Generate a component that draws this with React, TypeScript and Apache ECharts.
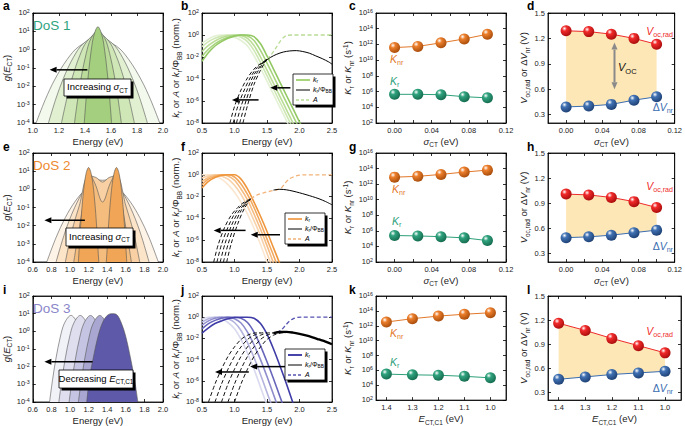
import React, { useEffect, useRef } from 'react';
import * as echarts from 'echarts';

const FONT = '"Liberation Sans", Arial, Helvetica, sans-serif';

// ================= DATA =================
// Panel a – DoS 1 (log10 g), lightest (largest sigma) -> darkest
const dos1X = [
  [1.025, 1.096, 1.167, 1.262, 1.357, 1.5, 1.643, 1.738, 1.833, 1.904, 1.975],
  [1.12, 1.177, 1.234, 1.31, 1.386, 1.5, 1.614, 1.69, 1.766, 1.823, 1.88],
  [1.22, 1.262, 1.304, 1.36, 1.416, 1.5, 1.584, 1.64, 1.696, 1.738, 1.78],
  [1.32, 1.347, 1.374, 1.41, 1.446, 1.5, 1.554, 1.59, 1.626, 1.653, 1.68],
  [1.395, 1.411, 1.427, 1.448, 1.469, 1.5, 1.531, 1.552, 1.573, 1.589, 1.605],
];
const dos1Y = [
  [-4, -2.72, -1.65, -0.55, 0.19, 0.6, 0.19, -0.55, -1.65, -2.72, -4],
  [-4, -2.68, -1.58, -0.44, 0.32, 0.75, 0.32, -0.44, -1.58, -2.68, -4],
  [-4, -2.64, -1.5, -0.33, 0.46, 0.9, 0.46, -0.33, -1.5, -2.64, -4],
  [-4, -2.6, -1.42, -0.21, 0.6, 1.05, 0.6, -0.21, -1.42, -2.6, -4],
  [-4, -2.54, -1.32, -0.06, 0.78, 1.25, 0.78, -0.06, -1.32, -2.54, -4],
];

// Panel e – DoS 2
const dos2X = [
  [0.75, 0.85, 0.95, 1.05, 1.15, 1.25, 1.35, 1.45, 1.55, 1.65, 1.75, 1.85, 1.95],
  [0.85, 0.95, 1.05, 1.15, 1.25, 1.35, 1.45, 1.55, 1.65, 1.75, 1.85],
  [0.95, 1.02, 1.1, 1.2, 1.28, 1.35, 1.42, 1.5, 1.6, 1.68, 1.75],
  [1.04, 1.09, 1.14, 1.2, 1.27, 1.35, 1.43, 1.5, 1.56, 1.61, 1.66],
  [1.09, 1.11, 1.14, 1.17, 1.2, 1.23, 1.26, 1.29, 1.31, 1.35, 1.39, 1.41, 1.44, 1.47, 1.5, 1.53, 1.56, 1.59, 1.61],
];
const dos2Y = [
  [-4, -2.65, -1.55, -0.7, -0.09, 0.28, 0.4, 0.28, -0.09, -0.7, -1.55, -2.65, -4],
  [-4, -2.3, -1.0, -0.05, 0.55, 0.5, 0.55, -0.05, -1.0, -2.3, -4],
  [-4, -2.3, -0.9, 0.75, 0.65, 0.4, 0.65, 0.75, -0.9, -2.3, -4],
  [-4, -2.4, -0.9, 0.95, 0.3, -0.7, 0.3, 0.95, -0.9, -2.4, -4],
  [-4, -2.3, -0.35, 0.81, 1.2, 0.81, -0.35, -2.3, -4, -6, -4, -2.3, -0.35, 0.81, 1.2, 0.81, -0.35, -2.3, -4],
];

// Panel i – DoS 3
const dos3X = [
  [0.78, 0.815, 0.85, 0.895, 0.94, 1.01, 1.08, 1.125, 1.17, 1.205, 1.24],
  [0.88, 0.915, 0.95, 0.995, 1.04, 1.11, 1.18, 1.225, 1.27, 1.305, 1.34],
  [0.99, 1.025, 1.06, 1.105, 1.15, 1.22, 1.29, 1.335, 1.38, 1.415, 1.45],
  [1.09, 1.125, 1.16, 1.205, 1.25, 1.32, 1.39, 1.435, 1.48, 1.515, 1.55],
  [1.18, 1.21, 1.25, 1.3, 1.35, 1.4, 1.45, 1.5, 1.55, 1.6, 1.65, 1.69, 1.73],
];
const dos3Y = [
  [-4, -2.64, -1.5, -0.33, 0.46, 0.9, 0.46, -0.33, -1.5, -2.64, -4],
  [-4, -2.64, -1.5, -0.33, 0.46, 0.9, 0.46, -0.33, -1.5, -2.64, -4],
  [-4, -2.64, -1.5, -0.33, 0.46, 0.9, 0.46, -0.33, -1.5, -2.64, -4],
  [-4, -2.64, -1.5, -0.33, 0.46, 0.9, 0.46, -0.33, -1.5, -2.64, -4],
  [-4, -2.6, -1.5, -0.3, 0.5, 0.9, 1.0, 0.95, 0.5, -0.3, -1.5, -2.6, -4],
];

// Panel b – k_r (log10, norm.)
const bKrX = [0.5, 0.6, 0.7, 0.8, 0.9, 1.0, 1.1, 1.2, 1.3, 1.4, 1.5, 1.6, 1.7, 1.8, 1.9, 2.0, 2.1];
const bKrY = [
  [-0.75, -0.35, -0.1, 0, -0.05, -0.2, -0.5, -1.0, -1.9, -3.0, -4.2, -5.4, -6.6, -7.8, -9.0],
  [-1.05, -0.6, -0.3, -0.1, 0, -0.05, -0.2, -0.6, -1.4, -2.5, -3.7, -4.9, -6.1, -7.3, -8.5, -9.7],
  [-1.5, -0.95, -0.55, -0.25, -0.08, 0, -0.05, -0.3, -0.95, -2.0, -3.2, -4.4, -5.6, -6.8, -8.0, -9.2],
  [-1.95, -1.3, -0.8, -0.45, -0.2, -0.05, 0, -0.1, -0.5, -1.4, -2.55, -3.75, -4.95, -6.15, -7.35, -8.55],
  [-2.4, -1.6, -1.0, -0.6, -0.3, -0.1, 0, 0, -0.15, -0.8, -1.9, -3.1, -4.3, -5.5, -6.7, -7.9, -9.1],
];
const bAbsLow = [
  [[0.93, -8], [1.0, -6.5], [1.1, -5.0], [1.2, -3.9], [1.3, -3.1], [1.4, -2.6], [1.5, -2.2]],
  [[0.98, -8], [1.05, -6.5], [1.15, -5.0], [1.25, -3.8], [1.35, -2.95], [1.5, -2.2]],
  [[1.03, -8], [1.1, -6.5], [1.2, -4.9], [1.3, -3.6], [1.4, -2.8], [1.5, -2.2]],
  [[1.08, -8], [1.15, -6.5], [1.25, -4.7], [1.35, -3.4], [1.42, -2.75], [1.5, -2.2]],
  [[1.13, -8], [1.2, -6.4], [1.3, -4.5], [1.4, -3.2], [1.5, -2.2]],
];
const bAbsHigh = [[1.5, -2.2], [1.55, -1.9], [1.6, -1.5], [1.65, -1.05], [1.7, -0.6], [1.75, -0.25], [1.8, -0.05], [1.9, 0], [2.5, 0]];
const bKrPhi = [[1.45, -2.5], [1.55, -2.05], [1.65, -1.75], [1.75, -1.55], [1.85, -1.45], [1.95, -1.42], [2.05, -1.5], [2.15, -1.65], [2.25, -1.9], [2.35, -2.15], [2.45, -2.45], [2.5, -2.65]];

// Panel f
const fKrX = [0.5, 0.6, 0.7, 0.8, 0.9, 1.0, 1.1, 1.2, 1.3, 1.4, 1.5, 1.6, 1.7];
const fKrY = [
  [0, 0, -0.1, -0.4, -0.9, -1.6, -2.5, -3.6, -4.9, -6.4, -8.0, -9.6],
  [-0.3, -0.1, 0, -0.1, -0.4, -0.95, -1.8, -2.9, -4.2, -5.6, -7.2, -8.8],
  [-0.6, -0.25, -0.05, 0, -0.1, -0.5, -1.3, -2.3, -3.6, -5.0, -6.5, -8.1, -9.7],
  [-0.9, -0.4, -0.15, -0.02, 0, -0.2, -0.85, -1.8, -3.0, -4.4, -5.9, -7.4, -9.0],
  [-1.2, -0.6, -0.25, -0.05, 0, 0, -0.4, -1.3, -2.5, -3.8, -5.2, -6.7, -8.2],
];
const fAbsLow = [
  [[0.68, -8], [0.75, -6.4], [0.85, -4.8], [0.95, -3.7], [1.05, -3.0], [1.15, -2.5], [1.25, -2.2]],
  [[0.73, -8], [0.8, -6.4], [0.9, -4.8], [1.0, -3.6], [1.1, -2.85], [1.25, -2.2]],
  [[0.78, -8], [0.85, -6.4], [0.95, -4.7], [1.05, -3.5], [1.15, -2.7], [1.25, -2.2]],
  [[0.83, -8], [0.9, -6.4], [1.0, -4.6], [1.1, -3.3], [1.18, -2.6], [1.25, -2.2]],
  [[0.88, -8], [0.95, -6.3], [1.05, -4.5], [1.15, -3.1], [1.25, -2.2]],
];
const fAbsHigh = [[1.25, -2.2], [1.35, -1.85], [1.45, -1.65], [1.55, -1.5], [1.65, -1.38], [1.72, -1.2], [1.78, -0.75], [1.85, -0.35], [1.95, -0.1], [2.05, 0], [2.5, 0]];
const fKrPhi = [[1.6, -1.4], [1.7, -1.33], [1.8, -1.38], [1.9, -1.5], [2.0, -1.65], [2.1, -1.82], [2.2, -2.0], [2.3, -2.2], [2.4, -2.45], [2.5, -2.75]];

// Panel j
const jKrX = [0.5, 0.6, 0.7, 0.8, 0.9, 1.0, 1.1, 1.2, 1.3, 1.4, 1.5, 1.6, 1.7, 1.8, 1.9];
const jKrY = [
  [-0.2, 0, 0, -0.15, -0.5, -1.1, -2.1, -3.4, -4.9, -6.6, -8.3],
  [-0.45, -0.15, 0, 0, -0.15, -0.5, -1.25, -2.4, -3.8, -5.4, -7.1, -8.8],
  [-0.75, -0.35, -0.1, 0, 0, -0.15, -0.55, -1.4, -2.6, -4.0, -5.6, -7.3, -9.0],
  [-1.1, -0.6, -0.3, -0.1, 0, 0, -0.1, -0.5, -1.4, -2.7, -4.2, -5.8, -7.5, -9.2],
  [-1.5, -1.0, -0.6, -0.35, -0.15, -0.03, 0, 0, -0.1, -0.6, -1.6, -3.0, -4.6, -6.3, -8.1],
];
const jKrPhiLow = [
  [[0.6, -8], [0.7, -6.3], [0.8, -4.9], [0.9, -3.7], [1.0, -2.8], [1.1, -2.1], [1.2, -1.7], [1.3, -1.5], [1.4, -1.45]],
  [[0.7, -8], [0.8, -6.3], [0.9, -4.9], [1.0, -3.7], [1.1, -2.8], [1.2, -2.1], [1.3, -1.7], [1.4, -1.5], [1.5, -1.45]],
  [[0.8, -8], [0.9, -6.3], [1.0, -4.9], [1.1, -3.7], [1.2, -2.8], [1.3, -2.1], [1.4, -1.7], [1.5, -1.5], [1.6, -1.45]],
  [[0.9, -8], [1.0, -6.3], [1.1, -4.9], [1.2, -3.7], [1.3, -2.8], [1.4, -2.1], [1.5, -1.7], [1.6, -1.5], [1.7, -1.45]],
  [[1.0, -8], [1.1, -6.3], [1.2, -4.9], [1.3, -3.7], [1.4, -2.8], [1.5, -2.1], [1.6, -1.7], [1.7, -1.5], [1.8, -1.45]],
];
const jAbsHigh = [[1.65, -1.45], [1.72, -1.2], [1.78, -0.8], [1.84, -0.4], [1.9, -0.15], [1.97, -0.02], [2.05, 0], [2.5, 0]];
const jKrPhi = [[1.6, -1.5], [1.7, -1.4], [1.8, -1.38], [1.9, -1.45], [2.0, -1.57], [2.1, -1.72], [2.2, -1.9], [2.3, -2.1], [2.4, -2.3], [2.5, -2.55]];

// Panels c/d, g/h, k/l
const sigmaCT = [0, 0.025, 0.05, 0.075, 0.1];
const ectC1 = [1.4, 1.3, 1.2, 1.1, 1.0];
const cKnr = [11.6, 11.75, 12.2, 12.7, 13.3];
const cKr = [5.65, 5.65, 5.6, 5.35, 5.2];
const dVoc = [1.29, 1.28, 1.25, 1.2, 1.13];
const dDV = [0.39, 0.4, 0.42, 0.47, 0.51];
const gKnr = [12.9, 13.0, 13.25, 13.55, 13.8];
const gKr = [5.4, 5.35, 5.25, 5.1, 4.75];
const hVoc = [1.01, 1.0, 0.97, 0.92, 0.85];
const hDV = [0.49, 0.5, 0.52, 0.55, 0.58];
const kKnr = [12.5, 12.95, 13.3, 13.55, 13.75];
const kKr = [5.5, 5.4, 5.35, 5.2, 5.0];
const lVoc = [1.16, 1.07, 0.97, 0.88, 0.79];
const lDV = [0.46, 0.49, 0.52, 0.54, 0.56];

// tick values
const vTicks = [0.3, 0.6, 0.9, 1.2, 1.5];
const sigmaTicks = [0, 0.04, 0.08, 0.12];
const sigmaMinor = [0, 0.02, 0.04, 0.06, 0.08, 0.1, 0.12];
const ectTicks = [1.0, 1.1, 1.2, 1.3, 1.4];

// ================= LAYOUT / STYLE =================
const ROW_TOP = [13, 153, 296];
const ROW_H = [110, 109, 107];
const COL_LEFT = [28, 202, 376, 548];
const COL_W = [135, 130, 130, 133];

const RANGE_X = [[1, 2], [0.5, 2.5], [-0.02, 0.12], [-0.02, 0.12], [0.6, 2], [0.5, 2.5], [-0.02, 0.12], [-0.02, 0.12], [0.6, 2], [0.5, 2.5], [0.94, 1.44], [0.94, 1.44]];
const RANGE_Y = [[-4, 2], [-8, 2], [2, 16], [0.2, 1.5], [-4, 2], [-8, 2], [2, 16], [0.2, 1.5], [-4, 2], [-8, 2], [2, 16], [0.2, 1.5]];
const INV = [false, false, false, false, false, false, false, false, false, false, true, true];

const GREEN_FILL = ['#f3f9ec', '#e2f0d2', '#cfe6b6', '#badb9a', '#a3cf7e'];
const ORANGE_FILL = ['#fdf3e7', '#fbe4c8', '#f8d0a3', '#f4bc7d', '#f0a656'];
const PURPLE_FILL = ['#f1f1f8', '#dedeef', '#c5c4e2', '#a9a7d2', '#5e59a8'];
const GREEN_LINE = ['#e3f1d4', '#cfe7b5', '#bbdd98', '#a8d47e', '#93c964'];
const ORANGE_LINE = ['#fbe6d0', '#f8d2aa', '#f5bd84', '#f2a95f', '#ef963c'];
const BLUE_LINE = ['#d9d9ef', '#b4b3de', '#8e8ccc', '#6866bb', '#3f3ca8'];

function P(i: number, x: number, y: number): [number, number] {
  const r = Math.floor(i / 4), c = i % 4;
  const [x0, x1] = RANGE_X[i];
  const [y0, y1] = RANGE_Y[i];
  let fx = (x - x0) / (x1 - x0);
  if (INV[i]) fx = 1 - fx;
  return [COL_LEFT[c] + fx * COL_W[c], ROW_TOP[r] + ((y1 - y) / (y1 - y0)) * ROW_H[r]];
}

const zip = (xs: number[], ys: number[]) => ys.map((y, k) => [xs[k], y]);

function RICH(size: number, color: string) {
  const base = { fontSize: size, fontFamily: FONT, color, fill: color, verticalAlign: 'top', lineHeight: size * 1.25 };
  return {
    n: base,
    i: { ...base, fontStyle: 'italic' },
    s: { fontSize: size * 0.68, fontFamily: FONT, color, fill: color, verticalAlign: 'bottom', lineHeight: size * 0.8, padding: [size * 0.55, 0, 0, 0] },
    p: { fontSize: size * 0.68, fontFamily: FONT, color, fill: color, verticalAlign: 'top', lineHeight: size * 0.8 },
  };
}

const TICK_RICH = {
  b: { fontSize: 7.5, fontFamily: FONT, color: '#222', verticalAlign: 'top', lineHeight: 9 },
  p: { fontSize: 5.3, fontFamily: FONT, color: '#222', verticalAlign: 'top', lineHeight: 5.5 },
};
const logFmt = (v: number) => `{b|10}{p|${Math.round(v)}}`;

function ball(base: string, dark: string) {
  return new echarts.graphic.RadialGradient(0.35, 0.3, 0.75, [
    { offset: 0, color: '#ffffff' },
    { offset: 0.3, color: base },
    { offset: 1, color: dark },
  ]);
}

function buildOption() {
  const grid: any[] = [];
  const xAxis: any[] = [];
  const yAxis: any[] = [];
  const xMirror: any[] = [];
  const yMirror: any[] = [];
  const series: any[] = [];
  const graphic: any[] = [];

  const lineStyleAxis = { color: '#000', width: 0.8 };
  const nameStyle = { fontSize: 9.5, fontFamily: FONT, color: '#222', rich: RICH(9.5, '#222') };

  for (let i = 0; i < 12; i++) {
    const r = Math.floor(i / 4), c = i % 4;
    grid.push({ left: COL_LEFT[c], top: ROW_TOP[r], width: COL_W[c], height: ROW_H[r], show: true, borderColor: '#000', borderWidth: 0.8, backgroundColor: 'transparent' });
    const kind = c;
    const xa: any = {
      gridIndex: i, type: 'value', position: 'bottom', min: RANGE_X[i][0], max: RANGE_X[i][1], inverse: INV[i],
      splitLine: { show: false },
      axisLine: { show: true, onZero: false, lineStyle: lineStyleAxis },
      axisTick: { show: true, inside: true, length: 3, lineStyle: lineStyleAxis },
      axisLabel: { fontSize: 7.5, fontFamily: FONT, color: '#222', margin: 3, showMinLabel: true, showMaxLabel: true },
      nameLocation: 'middle', nameGap: 13, nameTextStyle: nameStyle,
    };
    const ya: any = {
      gridIndex: i, type: 'value', position: 'left', min: RANGE_Y[i][0], max: RANGE_Y[i][1],
      splitLine: { show: false },
      axisLine: { show: true, onZero: false, lineStyle: lineStyleAxis },
      axisTick: { show: true, inside: true, length: 3, lineStyle: lineStyleAxis },
      axisLabel: { fontSize: 7.5, fontFamily: FONT, color: '#222', margin: 3, showMinLabel: true, showMaxLabel: true },
      nameLocation: 'middle', nameTextStyle: nameStyle,
    };
    if (kind === 0) {
      xa.interval = 0.2;
      xa.axisLabel.formatter = (v: number) => v.toFixed(1);
      xa.name = '{n|Energy (eV)}';
      ya.interval = 1;
      ya.axisLabel.formatter = logFmt;
      ya.axisLabel.rich = TICK_RICH;
      ya.name = '{i|g}{n|(}{i|E}{s|CT}{n|)}';
      ya.nameGap = 17;
    } else if (kind === 1) {
      xa.interval = 0.5;
      xa.axisLabel.formatter = (v: number) => v.toFixed(1);
      xa.name = '{n|Energy (eV)}';
      ya.interval = 2;
      ya.axisLabel.formatter = logFmt;
      ya.axisLabel.rich = TICK_RICH;
      ya.name = '{i|k}{s|r}{n| or }{i|A}{n| or }{i|k}{s|r}{n|/Φ}{s|BB}{n| (norm.)}';
      ya.nameGap = 15;
    } else {
      if (r < 2) {
        xa.axisLabel.customValues = sigmaTicks;
        xa.axisTick.customValues = sigmaMinor;
        xa.axisLabel.formatter = (v: number) => v.toFixed(2);
        xa.name = '{i|σ}{s|CT}{n| (eV)}';
      } else {
        xa.axisLabel.customValues = ectTicks;
        xa.axisTick.customValues = ectTicks;
        xa.axisLabel.formatter = (v: number) => v.toFixed(1);
        xa.name = '{i|E}{s|CT,C1}{n| (eV)}';
      }
      if (kind === 2) {
        ya.interval = 2;
        ya.axisLabel.formatter = logFmt;
        ya.axisLabel.rich = TICK_RICH;
        ya.name = '{i|K}{s|r}{n| or }{i|K}{s|nr}{n| (s}{p|-1}{n|)}';
        ya.nameGap = 19;
      } else {
        ya.axisLabel.customValues = vTicks;
        ya.axisTick.customValues = vTicks;
        ya.axisLabel.formatter = (v: number) => v.toFixed(1);
        ya.name = '{i|V}{s|oc,rad}{n| or Δ}{i|V}{s|nr}{n| (V)}';
        ya.nameGap = 16;
      }
    }
    xAxis.push(xa);
    yAxis.push(ya);
    // mirror axes: ticks only on top / right
    xMirror.push({
      ...xa, position: 'top', name: '', axisLabel: { ...xa.axisLabel, show: false },
      axisLine: { show: true, onZero: false, lineStyle: lineStyleAxis },
    });
    yMirror.push({
      ...ya, position: 'right', name: '', axisLabel: { ...ya.axisLabel, show: false },
      axisLine: { show: true, onZero: false, lineStyle: lineStyleAxis },
    });
  }

  const ln = (i: number, data: any[], extra: any) => ({
    type: 'line', xAxisIndex: i, yAxisIndex: i, data, symbol: 'none', silent: true, animation: false, ...extra,
  });

  // DoS panels
  const dosPanels: [number, number[][], number[][], string[]][] = [
    [0, dos1X, dos1Y, GREEN_FILL], [4, dos2X, dos2Y, ORANGE_FILL], [8, dos3X, dos3Y, PURPLE_FILL],
  ];
  dosPanels.forEach(([gi, xs, ys, fills]) => {
    ys.forEach((yy, k) => {
      series.push(ln(gi, zip(xs[k], yy), {
        smooth: 0.35,
        lineStyle: { color: '#555', width: 0.6 },
        areaStyle: { color: fills[k], opacity: 1, origin: 'start' },
        z: 2 + k,
      }));
    });
  });

  // k_r panels
  const krPanels: [number, number[], number[][], string[]][] = [
    [1, bKrX, bKrY, GREEN_LINE], [5, fKrX, fKrY, ORANGE_LINE], [9, jKrX, jKrY, BLUE_LINE],
  ];
  krPanels.forEach(([gi, xs, ys, cols]) => {
    ys.forEach((yy, k) => {
      series.push(ln(gi, zip(xs, yy), { smooth: 0.3, lineStyle: { color: cols[k], width: 1.6 }, z: 3 }));
    });
  });
  const dash = [4, 2.5];
  bAbsLow.forEach((d) => series.push(ln(1, d, { smooth: 0.3, lineStyle: { color: '#111', width: 1, type: dash }, z: 4 })));
  series.push(ln(1, bAbsHigh, { smooth: 0.3, lineStyle: { color: '#b9dc96', width: 1.3, type: dash }, z: 4 }));
  series.push(ln(1, bKrPhi, { smooth: 0.3, lineStyle: { color: '#000', width: 1 }, z: 5 }));
  fAbsLow.forEach((d) => series.push(ln(5, d, { smooth: 0.3, lineStyle: { color: '#111', width: 1, type: dash }, z: 4 })));
  series.push(ln(5, fAbsHigh, { smooth: 0.3, lineStyle: { color: '#f2b37a', width: 1.3, type: dash }, z: 4 }));
  series.push(ln(5, fKrPhi, { smooth: 0.3, lineStyle: { color: '#000', width: 1 }, z: 5 }));
  jKrPhiLow.forEach((d) => series.push(ln(9, d, { smooth: 0.3, lineStyle: { color: '#111', width: 1, type: dash }, z: 4 })));
  series.push(ln(9, jAbsHigh, { smooth: 0.3, lineStyle: { color: '#5553b0', width: 1.3, type: dash }, z: 4 }));
  series.push(ln(9, jKrPhi, { smooth: 0.3, lineStyle: { color: '#000', width: 2.4 }, z: 5 }));

  // K panels
  const orange = ball('#ec7f2c', '#a54a0a');
  const teal = ball('#30a37e', '#14694d');
  const red = ball('#f22a2a', '#a60c0c');
  const blue = ball('#4172b4', '#1d3f72');
  const kPanels: [number, number[], number[], number[]][] = [
    [2, sigmaCT, cKnr, cKr], [6, sigmaCT, gKnr, gKr], [10, ectC1, kKnr, kKr],
  ];
  kPanels.forEach(([gi, xs, knr, kr]) => {
    series.push(ln(gi, zip(xs, knr), { symbol: 'circle', symbolSize: 11, lineStyle: { color: '#e2782a', width: 1 }, itemStyle: { color: orange }, z: 5 }));
    series.push(ln(gi, zip(xs, kr), { symbol: 'circle', symbolSize: 11, lineStyle: { color: '#2da07a', width: 1 }, itemStyle: { color: teal }, z: 5 }));
  });

  // V panels
  const vPanels: [number, number[], number[], number[]][] = [
    [3, sigmaCT, dVoc, dDV], [7, sigmaCT, hVoc, hDV], [11, ectC1, lVoc, lDV],
  ];
  vPanels.forEach(([gi, xs, voc, dv]) => {
    series.push({
      type: 'custom', xAxisIndex: gi, yAxisIndex: gi, silent: true, z: 2,
      data: [[xs[0], voc[0]]],
      renderItem: (_p: any, api: any) => {
        const top = xs.map((x, k) => api.coord([x, voc[k]]));
        const bot = xs.map((x, k) => api.coord([x, dv[k]])).reverse();
        return { type: 'polygon', shape: { points: [...top, ...bot] }, style: { fill: '#fde7b6' } };
      },
    });
    series.push(ln(gi, zip(xs, voc), { symbol: 'circle', symbolSize: 11, lineStyle: { color: '#ee2a2a', width: 1 }, itemStyle: { color: red }, z: 5 }));
    series.push(ln(gi, zip(xs, dv), { symbol: 'circle', symbolSize: 11, lineStyle: { color: '#3b6db0', width: 1 }, itemStyle: { color: blue }, z: 5 }));
  });

  // ---------- graphic annotations ----------
  const letters = ['a', 'b', 'c', 'd', 'e', 'f', 'g', 'h', 'i', 'j', 'k', 'l'];
  const letterX = [3, 181, 349, 527];
  const letterY = [6, 147, 290];
  letters.forEach((t, i) => {
    graphic.push({ type: 'text', x: letterX[i % 4], y: letterY[Math.floor(i / 4)], z: 100, style: { text: t, fontSize: 12, fontWeight: 'bold', fontFamily: FONT, fill: '#000', verticalAlign: 'middle' } });
  });

  const dosLabels: [number, string, string][] = [[0, 'DoS 1', '#2fa37e'], [4, 'DoS 2', '#ee8a2f'], [8, 'DoS 3', '#8a86c9']];
  dosLabels.forEach(([gi, t, col]) => {
    const r = Math.floor(gi / 4);
    graphic.push({ type: 'text', x: COL_LEFT[0] + 5, y: ROW_TOP[r] + 12, z: 100, style: { text: t, fontSize: 13.5, fontFamily: FONT, fill: col, verticalAlign: 'middle' } });
  });

  const arrow = (p1: number[], p2: number[], color: string, w: number, both = false) => {
    const dx = p2[0] - p1[0], dy = p2[1] - p1[1];
    const L = Math.hypot(dx, dy);
    const ux = dx / L, uy = dy / L;
    const hl = 7, hw = 3;
    const nx = -uy, ny = ux;
    const b2 = [p2[0] - ux * hl, p2[1] - uy * hl];
    const b1 = both ? [p1[0] + ux * hl, p1[1] + uy * hl] : p1;
    graphic.push({ type: 'line', z: 100, shape: { x1: b1[0], y1: b1[1], x2: b2[0], y2: b2[1] }, style: { stroke: color, lineWidth: w } });
    graphic.push({ type: 'polygon', z: 100, shape: { points: [p2, [b2[0] + nx * hw, b2[1] + ny * hw], [b2[0] - nx * hw, b2[1] - ny * hw]] }, style: { fill: color } });
    if (both) {
      graphic.push({ type: 'polygon', z: 100, shape: { points: [p1, [b1[0] + nx * hw, b1[1] + ny * hw], [b1[0] - nx * hw, b1[1] - ny * hw]] }, style: { fill: color } });
    }
  };
  arrow(P(0, 1.44, -1.1), P(0, 1.16, -1.1), '#000', 1.5);
  arrow(P(4, 1.19, -1.7), P(4, 0.77, -1.7), '#000', 1.5);
  arrow(P(8, 1.27, -1.68), P(8, 0.77, -1.68), '#000', 1.5);
  arrow(P(1, 1.37, -5.9), P(1, 0.96, -5.9), '#000', 1.5);
  arrow(P(1, 1.86, -4.8), P(1, 1.55, -4.8), '#000', 1.5);
  arrow(P(5, 1.17, -5.1), P(5, 0.68, -5.1), '#000', 1.5);
  arrow(P(5, 1.7, -5.5), P(5, 1.25, -5.5), '#000', 1.5);
  arrow(P(9, 1.22, -5.1), P(9, 0.7, -5.1), '#000', 1.5);
  arrow(P(9, 1.78, -4.6), P(9, 1.24, -4.6), '#000', 1.5);
  arrow(P(3, 0.05, 0.6), P(3, 0.05, 1.15), '#8a8a8a', 2, true);

  const shadowBox = (x: number, y: number, w: number, h: number, text: string | null, size = 9.5) => {
    graphic.push({ type: 'rect', z: 100, shape: { x: x + 2.5, y: y + 2.5, width: w, height: h }, style: { fill: '#000' } });
    graphic.push({ type: 'rect', z: 101, shape: { x, y, width: w, height: h }, style: { fill: '#fff', stroke: '#000', lineWidth: 0.8 } });
    if (text) graphic.push({ type: 'text', z: 102, x: x + w / 2, y: y + h / 2, style: { text, rich: RICH(size, '#000'), align: 'center', verticalAlign: 'middle' } });
  };
  shadowBox(64, 79, 67, 17, '{n|Increasing }{i|σ}{s|CT}');
  shadowBox(66, 228, 67, 18, '{n|Increasing }{i|σ}{s|CT}');
  shadowBox(59, 370, 74, 18, '{n|Decreasing }{i|E}{s|CT,C1}');

  const legendBox = (x: number, y: number, krCol: string, aCol: string) => {
    shadowBox(x, y, 40, 31, null);
    const rows = [y + 6, y + 16, y + 26];
    graphic.push({ type: 'line', z: 103, shape: { x1: x + 3, y1: rows[0], x2: x + 17, y2: rows[0] }, style: { stroke: krCol, lineWidth: 2 } });
    graphic.push({ type: 'line', z: 103, shape: { x1: x + 3, y1: rows[1], x2: x + 17, y2: rows[1] }, style: { stroke: '#000', lineWidth: 1 } });
    graphic.push({ type: 'line', z: 103, shape: { x1: x + 3, y1: rows[2], x2: x + 17, y2: rows[2] }, style: { stroke: aCol, lineWidth: 1.5, lineDash: [3, 2] } });
    const texts = ['{i|k}{s|r}', '{i|k}{s|r}{n|/Φ}{s|BB}', '{i|A}'];
    texts.forEach((t, k) => graphic.push({ type: 'text', z: 103, x: x + 20, y: rows[k], style: { text: t, rich: RICH(7, '#000'), verticalAlign: 'middle' } }));
  };
  legendBox(293, 74, '#a8d47e', '#b9dc96');
  legendBox(285, 213, '#f2a95f', '#f2b37a');
  legendBox(285, 349, '#4745aa', '#5553b0');

  const txt = (x: number, y: number, text: string, size: number, color: string, align = 'left') => {
    graphic.push({ type: 'text', z: 100, x, y, style: { text, rich: RICH(size, color), align, verticalAlign: 'middle' } });
  };
  const kLab: [number, number, number][] = [[390, 60, 82], [392, 190, 222], [390, 334, 363]];
  kLab.forEach(([x, y1, y2]) => {
    txt(x, y1, '{i|K}{s|nr}', 10.5, '#e2782a');
    txt(x, y2, '{i|K}{s|r}', 10.5, '#2da07a');
  });
  const vLab: [number, number, number][] = [[673, 32, 108], [673, 187, 247], [673, 332, 389]];
  vLab.forEach(([x, y1, y2]) => {
    txt(x, y1, '{i|V}{s|oc,rad}', 10.5, '#ee2a2a', 'right');
    txt(x, y2, '{n|Δ}{i|V}{s|nr}', 10.5, '#3b6db0', 'right');
  });
  txt(618, 68, '{i|V}{s|OC}', 11, '#111');

  return {
    animation: false, backgroundColor: '#fff', grid,
    xAxis: [...xAxis, ...xMirror], yAxis: [...yAxis, ...yMirror],
    series, graphic,
  };
}

export default function App() {
  const ref = useRef<HTMLDivElement>(null);
  useEffect(() => {
    const chart = echarts.init(ref.current!, null, { renderer: 'svg' });
    chart.setOption(buildOption() as any);
    return () => chart.dispose();
  }, []);
  return <div ref={ref} style={{ position: 'fixed', left: 0, top: 0, width: 685, height: 426, background: '#fff' }} />;
}
